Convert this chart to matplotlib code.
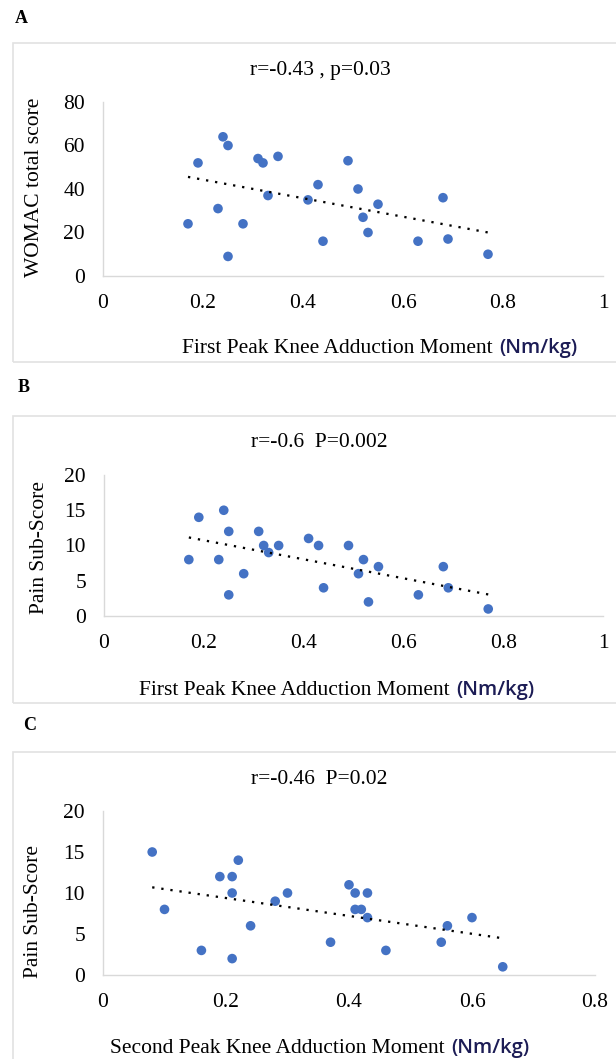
import matplotlib
matplotlib.use("Agg")
import matplotlib.pyplot as plt
import numpy as np
from matplotlib.patches import Rectangle
from matplotlib.ticker import FuncFormatter, MultipleLocator

# ---- data ----
kam1 = [0.17, 0.19, 0.24, 0.25, 0.23, 0.25, 0.28, 0.31, 0.32, 0.33, 0.35, 0.41,
        0.43, 0.44, 0.49, 0.51, 0.52, 0.53, 0.55, 0.63, 0.68, 0.69, 0.77]
womac = [24, 52, 64, 60, 31, 9, 24, 54, 52, 37, 55, 35,
         42, 16, 53, 40, 27, 20, 33, 16, 36, 17, 10]
pain_b = [8, 14, 15, 12, 8, 3, 6, 12, 10, 9, 10, 11,
          10, 4, 10, 6, 8, 2, 7, 3, 7, 4, 1]
kam2 = [0.08, 0.10, 0.16, 0.19, 0.21, 0.21, 0.21, 0.22, 0.24, 0.28, 0.30, 0.37,
        0.40, 0.41, 0.41, 0.42, 0.43, 0.43, 0.46, 0.55, 0.56, 0.60, 0.65]
pain_c = [15, 8, 3, 12, 12, 10, 2, 14, 6, 9, 10, 4,
          11, 10, 8, 8, 10, 7, 3, 4, 6, 7, 1]

panel_letters = ["A", "B", "C"]
titles = ["r=-0.43 , p=0.03", "r=-0.6  P=0.002", "r=-0.46  P=0.02"]
ylabels = ["WOMAC total score", "Pain Sub-Score", "Pain Sub-Score"]
xlabels = ["First Peak Knee Adduction Moment", "First Peak Knee Adduction Moment",
           "Second Peak Knee Adduction Moment"]
unit = "(Nm/kg)"

W, H = 616, 1059
fig = plt.figure(figsize=(W / 100, H / 100), dpi=100)

def fx(p):
    return p / W

def fy(p):
    return 1 - p / H

SERIF = "Liberation Serif"
FS = 15.5
BLUE = "#4472C4"

panels = [
    dict(x=kam1, y=womac, xlim=(0, 1), ylim=(0, 80), ystep=20, xstep=0.2,
         ax=(103, 603, 102, 276), box=(43, 362),
         letter=(21, 18.5), title=(320, 75), ylab=(35, 187),
         xlab=(493, 353)),
    dict(x=kam1, y=pain_b, xlim=(0, 1), ylim=(0, 20), ystep=5, xstep=0.2,
         ax=(104, 603, 475, 616), box=(416, 703),
         letter=(24, 387), title=(319, 447), ylab=(40, 547),
         xlab=(450, 695)),
    dict(x=kam2, y=pain_c, xlim=(0, 0.8), ylim=(0, 20), ystep=5, xstep=0.2,
         ax=(103, 595, 811, 975), box=(752, 1070),
         letter=(30, 726), title=(319, 784), ylab=(34, 912),
         xlab=(445, 1053)),
]

fmt = FuncFormatter(lambda v, pos: "%g" % round(v, 6))

for i, p in enumerate(panels):
    # panel border box
    btop, bbot = p["box"]
    rect = Rectangle((fx(13), fy(bbot)), fx(700) - fx(13), fy(btop) - fy(bbot),
                     transform=fig.transFigure, fill=False, edgecolor="#e2e2e2",
                     linewidth=1.2, zorder=0)
    fig.patches.append(rect)

    l, r, t, b = p["ax"]
    ax = fig.add_axes([fx(l), fy(b), fx(r) - fx(l), fy(t) - fy(b)])
    ax.set_xlim(*p["xlim"])
    ax.set_ylim(*p["ylim"])
    ax.xaxis.set_major_locator(MultipleLocator(p["xstep"]))
    ax.yaxis.set_major_locator(MultipleLocator(p["ystep"]))
    ax.xaxis.set_major_formatter(fmt)
    ax.yaxis.set_major_formatter(fmt)
    for s in ["top", "right"]:
        ax.spines[s].set_visible(False)
    for s in ["left", "bottom"]:
        ax.spines[s].set_color("#d9d9d9")
        ax.spines[s].set_linewidth(1.0)
    ax.tick_params(axis="both", length=0, labelsize=FS, colors="black")
    ax.tick_params(axis="x", pad=13)
    ax.tick_params(axis="y", pad=13)
    for lab in ax.get_xticklabels() + ax.get_yticklabels():
        lab.set_fontfamily(SERIF)

    xs = np.array(p["x"])
    ys = np.array(p["y"])
    ax.scatter(xs, ys, s=48, color=BLUE, edgecolors="none", zorder=3, clip_on=False)
    k, c = np.polyfit(xs, ys, 1)
    xt = np.array([xs.min(), xs.max()])
    ax.plot(xt, k * xt + c, color="black", linewidth=1.65,
            linestyle=(0, (1, 3)), dash_capstyle="butt", zorder=4)

    fig.text(fx(p["letter"][0]), fy(p["letter"][1]), panel_letters[i],
             family=SERIF, fontsize=13, fontweight="bold", ha="center", va="center")
    fig.text(fx(p["title"][0]), fy(p["title"][1]), titles[i],
             family=SERIF, fontsize=FS, ha="center", va="baseline")
    fig.text(fx(p["ylab"][0]), fy(p["ylab"][1]), ylabels[i],
             family=SERIF, fontsize=FS, ha="center", va="center", rotation=90)
    xr, xb = p["xlab"]
    fig.text(fx(xr), fy(xb), xlabels[i], family=SERIF, fontsize=FS,
             ha="right", va="baseline")
    fig.text(fx(xr + 6), fy(xb), unit, family="Open Sans", fontsize=14.5,
             fontweight="semibold", color="#1c1c55", ha="left", va="baseline")

fig.savefig("out.png", dpi=100)
